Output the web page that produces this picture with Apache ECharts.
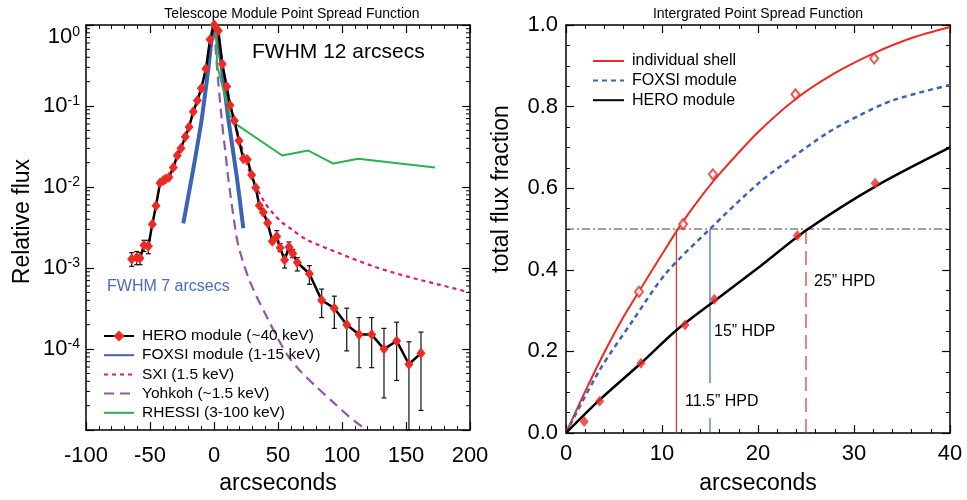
<!DOCTYPE html>
<html>
<head>
<meta charset="utf-8">
<title>Point Spread Function</title>
<script src="https://cdn.jsdelivr.net/npm/echarts/dist/echarts.min.js"></script>
<style>
    html, body { margin: 0; padding: 0; background: #ffffff; }
    #main { width: 967px; height: 500px; }
</style>
</head>
<body>
<div id="main"></div>
<script>
// ---- left panel: PSF profiles ----
var heroX = [-64.3, -60.4, -57.8, -54.7, -51.3, -48.2, -45.3, -42.2, -39.6, -37.7, -35.2, -31.8, -28.7,
    -25.8, -22.4, -19.5, -16.2, -13.0, -9.9, -6.3, -3.1, 0.2, 3.4, 6.5, 9.9, 12.5, 15.9, 19.5, 22.9, 26.0,
    29.4, 32.6, 35.4, 38.5, 41.9, 45.6, 49.0, 51.6, 55.2, 58.6, 61.5, 65.1, 74.5, 84.1, 94.0, 103.7, 113.3,
    123.2, 132.8, 142.7, 152.3, 161.7];
var heroFlux = [1.29e-3, 1.35e-3, 1.32e-3, 1.91e-3, 1.86e-3, 3.47e-3, 5.89e-3, 1.12e-2, 1.20e-2, 1.26e-2,
    1.32e-2, 1.74e-2, 2.45e-2, 3.02e-2, 4.17e-2, 5.50e-2, 8.51e-2, 0.117, 0.166, 0.288, 0.66, 1.0, 0.85,
    0.331, 0.174, 0.102, 0.066, 0.0372, 0.0224, 0.0219, 0.0141, 9.8e-3, 5.9e-3, 4.9e-3, 3.6e-3, 2.14e-3,
    2.45e-3, 1.78e-3, 1.26e-3, 1.82e-3, 1.51e-3, 1.17e-3, 8.5e-4, 4.0e-4, 3.2e-4, 2.0e-4, 1.51e-4, 1.51e-4,
    1.0e-4, 1.26e-4, 6.5e-5, 8.9e-5];
var heroErrX = [-64.3, -60.4, -57.8, -54.7, -51.3, 45.6, 49.0, 51.6, 55.2, 58.6, 61.5, 65.1, 74.5, 84.1,
    94.0, 103.7, 113.3, 123.2, 132.8, 142.7, 152.3, 161.7];
var heroErrLo = [1.05e-3, 1.1e-3, 1.1e-3, 1.6e-3, 1.5e-3, 2.0e-3, 2.2e-3, 1.6e-3, 1.0e-3, 1.6e-3, 1.35e-3,
    9.2e-4, 6.3e-4, 2.45e-4, 1.8e-4, 9.5e-5, 5.9e-5, 5.9e-5, 2.5e-5, 4.1e-5, 1e-5, 1.75e-5];
var heroErrHi = [1.55e-3, 1.6e-3, 1.55e-3, 2.2e-3, 2.2e-3, 2.3e-3, 2.9e-3, 2.0e-3, 1.45e-3, 2.1e-3, 1.7e-3,
    1.35e-3, 1.07e-3, 5.5e-4, 4.5e-4, 3.2e-4, 2.45e-4, 2.45e-4, 1.8e-4, 2.15e-4, 1.23e-4, 1.62e-4];
var foxsiX = [-24.0, -16.2, -9.6, -4.5, 0, 4.7, 11.2, 17.7, 22.9];
var foxsiFlux = [3.55e-3, 1.66e-2, 6.9e-2, 0.282, 1.0, 0.447, 6.9e-2, 1.38e-2, 3.1e-3];
var sxiX = [1, 6, 12.5, 18, 23, 28, 33, 40, 46.3, 52.8, 59.4, 72.4, 98.4, 124.5, 150.5, 176.6, 200];
var sxiFlux = [0.9, 0.33, 0.11, 0.05, 0.026, 0.0151, 0.010, 6.3e-3, 4.7e-3, 3.7e-3, 3.1e-3, 2.24e-3,
    1.51e-3, 1.05e-3, 7.9e-4, 6.2e-4, 5.0e-4];
var yohkohX = [0.5, 2.1, 6.0, 8.6, 11.2, 15.1, 19.0, 28.1, 41.2, 56.8, 67.2, 80.2, 93.2, 106, 119.3];
var yohkohFlux = [0.9, 0.339, 0.069, 0.0295, 0.0126, 4.47e-3, 1.9e-3, 6.8e-4, 2.5e-4, 8.7e-5, 5.4e-5,
    3.4e-5, 2.2e-5, 1.45e-5, 1.0e-5];
var rhessiX = [1.5, 2.5, 12.5, 17.7, 53.3, 73.7, 93.2, 112.7, 172.7];
var rhessiFlux = [0.89, 0.316, 0.076, 0.059, 0.0245, 0.0282, 0.0195, 0.0224, 0.0174];

// ---- right panel: integrated PSF ----
var shellX = [0, 2, 4, 6, 8, 10, 12, 14, 16, 20, 24, 28, 32, 36, 40];
var shellFrac = [0, 0.102, 0.198, 0.285, 0.362, 0.438, 0.512, 0.577, 0.635, 0.737, 0.82, 0.882, 0.93,
    0.968, 0.995];
var foxsiIntX = [0, 3.5, 7, 10.4, 14.9, 20.2, 23.7, 27.2, 30.6, 34.1, 40];
var foxsiIntFrac = [0, 0.154, 0.277, 0.391, 0.498, 0.615, 0.677, 0.735, 0.779, 0.816, 0.853];
var heroIntX = [0, 3.5, 7.8, 11.5, 15.6, 20.2, 25.1, 32.2, 40];
var heroIntFrac = [0, 0.081, 0.171, 0.252, 0.326, 0.408, 0.498, 0.604, 0.70];
var shellPtsX = [7.6, 12.2, 15.3, 23.9, 32.1];
var shellPtsFrac = [0.346, 0.512, 0.634, 0.83, 0.918];
var heroPtsX = [1.9, 3.5, 7.8, 12.4, 15.45, 24.1, 32.2];
var heroPtsFrac = [0.028, 0.078, 0.171, 0.265, 0.328, 0.484, 0.612];
var hpdLevel = 0.5;
var hpdShell = 11.5, hpdFoxsi = 15, hpdHero = 25;
var foxsiLineGap = [0.036, 0.122];   // blue marker line is broken round its label

var FONT = 'Liberation Sans, Arial, Helvetica, sans-serif';
var RED = '#ee2a24', BLUE = '#3d63b6', BLACK = '#000000';

function zip(xs, ys){
    return xs.map(function(x, i){ return [x, ys[i]]; });
}
// legend entry showing only the line (no symbol dot)
function lineOnly(name){
    return {name: name, itemStyle: {opacity: 0, color: 'rgba(0,0,0,0)', borderWidth: 0}};
}

// log axis minor ticks (2..9 per decade), drawn on both sides of the left frame
var logMinor = [];
for (var e = -5; e < 0; e++){
    for (var m = 2; m <= 9; m++){
        logMinor.push([-100, m * Math.pow(10, e)]);
    }
}
function renderLogMinor(params, api){
    var l = api.coord([-100, api.value(1)]);
    var r = api.coord([200, api.value(1)]);
    var st = {stroke: '#000', lineWidth: 1};
    return {type: 'group', children: [
        {type: 'line', shape: {x1: l[0], y1: l[1], x2: l[0] + 4, y2: l[1]}, style: st},
        {type: 'line', shape: {x1: r[0] - 4, y1: r[1], x2: r[0], y2: r[1]}, style: st}
    ]};
}
function renderErrorBar(params, api){
    var x = api.value(0);
    var top = api.coord([x, api.value(2)]);
    var bot = api.coord([x, api.value(1)]);
    var hw = 2.5;
    var st = {stroke: '#111', lineWidth: 1.2};
    return {type: 'group', children: [
        {type: 'line', shape: {x1: top[0], y1: top[1], x2: bot[0], y2: bot[1]}, style: st},
        {type: 'line', shape: {x1: top[0] - hw, y1: top[1], x2: top[0] + hw, y2: top[1]}, style: st},
        {type: 'line', shape: {x1: bot[0] - hw, y1: bot[1], x2: bot[0] + hw, y2: bot[1]}, style: st}
    ]};
}

// common axis pieces
function frameAxis(opt){
    var base = {
        axisLine: {show: true, onZero: false, lineStyle: {color: '#000', width: 1.5}},
        axisTick: {show: true, inside: true, length: 8, lineStyle: {color: '#000', width: 1.2}},
        minorTick: {show: false},
        splitLine: {show: false},
        axisLabel: {show: false}
    };
    return Object.assign(base, opt);
}
var tickLabel = {fontSize: 22, color: '#000', fontFamily: FONT};
var nameStyle = {fontSize: 23, color: '#000', fontFamily: FONT};
var minorX = {show: true, splitNumber: 5, length: 4, lineStyle: {color: '#000'}};
var minorY = {show: true, splitNumber: 4, length: 4, lineStyle: {color: '#000'}};

var chart = echarts.init(document.getElementById('main'));
var option = {
    animation: false,
    backgroundColor: '#ffffff',
    textStyle: {fontFamily: FONT},
    grid: [
        {left: 86, top: 25, width: 384, height: 408},
        {left: 566, top: 25, width: 384, height: 408}
    ],
    xAxis: [
        frameAxis({gridIndex: 0, type: 'value', position: 'bottom', min: -100, max: 200, interval: 50,
            minorTick: minorX, axisLabel: Object.assign({show: true, margin: 15}, tickLabel),
            name: 'arcseconds', nameLocation: 'middle', nameGap: 39, nameTextStyle: nameStyle}),
        frameAxis({gridIndex: 0, type: 'value', position: 'top', min: -100, max: 200, interval: 50,
            minorTick: minorX}),
        frameAxis({gridIndex: 1, type: 'value', position: 'bottom', min: 0, max: 40, interval: 10,
            minorTick: minorX, axisLabel: Object.assign({show: true, margin: 10}, tickLabel),
            name: 'arcseconds', nameLocation: 'middle', nameGap: 39, nameTextStyle: nameStyle}),
        frameAxis({gridIndex: 1, type: 'value', position: 'top', min: 0, max: 40, interval: 10,
            minorTick: minorX})
    ],
    yAxis: [
        frameAxis({gridIndex: 0, type: 'log', logBase: 10, position: 'left', min: 1e-5, max: 1,
            axisLabel: {show: true, margin: 6, verticalAlignMaxLabel: 'top',
                formatter: function(v){
                    var p = Math.round(Math.log10(v));
                    if (p <= -5) return '';
                    return '{b|10}{s|' + p + '}';
                },
                rich: {
                    b: {fontSize: 22, color: '#000', fontFamily: FONT},
                    s: {fontSize: 14, color: '#000', fontFamily: FONT, padding: [0, 0, 10, 0]}
                }},
            name: 'Relative flux', nameLocation: 'middle', nameGap: 52,
            nameTextStyle: Object.assign({padding: [0, 0, 0, 12]}, nameStyle)}),
        frameAxis({gridIndex: 0, type: 'log', logBase: 10, position: 'right', min: 1e-5, max: 1}),
        frameAxis({gridIndex: 1, type: 'value', position: 'left', min: 0, max: 1, interval: 0.2,
            minorTick: minorY,
            axisLabel: Object.assign({show: true, margin: 8,
                formatter: function(v){ return v.toFixed(1); }}, tickLabel),
            name: 'total flux fraction', nameLocation: 'middle', nameGap: 53,
            nameTextStyle: Object.assign({padding: [0, 0, 0, 80]}, nameStyle)}),
        frameAxis({gridIndex: 1, type: 'value', position: 'right', min: 0, max: 1, interval: 0.2,
            minorTick: minorY})
    ],
    legend: [
        {
            left: 98, top: 323, orient: 'vertical', itemWidth: 30, itemHeight: 14, itemGap: 3.2,
            textStyle: {fontSize: 15.5, lineHeight: 14, color: '#000', fontFamily: FONT, padding: [0, 0, 0, 3]},
            data: ['HERO module (~40 keV)', lineOnly('FOXSI module (1-15 keV)'), lineOnly('SXI (1.5 keV)'),
                lineOnly('Yohkoh (~1.5 keV)'), lineOnly('RHESSI (3-100 keV)')]
        },
        {
            left: 587, top: 48, orient: 'vertical', itemWidth: 31, itemHeight: 14, itemGap: 3.6,
            textStyle: {fontSize: 16, lineHeight: 14, color: '#000', fontFamily: FONT, padding: [0, 0, 0, 3]},
            data: [lineOnly('individual shell'), lineOnly('FOXSI module'), lineOnly('HERO module')]
        }
    ],
    series: [
        {
            type: 'custom', name: 'logMinor', xAxisIndex: 0, yAxisIndex: 0, silent: true, z: 5,
            clip: false, renderItem: renderLogMinor, data: logMinor, encode: {x: 0, y: 1}
        },
        {
            type: 'custom', name: 'heroErr', xAxisIndex: 0, yAxisIndex: 0, silent: true, z: 3,
            renderItem: renderErrorBar, encode: {x: 0, y: [1, 2]},
            data: heroErrX.map(function(x, i){ return [x, heroErrLo[i], heroErrHi[i]]; })
        },
        {
            type: 'line', name: 'FOXSI module (1-15 keV)', xAxisIndex: 0, yAxisIndex: 0,
            symbol: 'none', smooth: 0.2, data: zip(foxsiX, foxsiFlux), z: 2,
            lineStyle: {color: BLUE, width: 4}, itemStyle: {color: BLUE}
        },
        {
            type: 'line', name: 'SXI (1.5 keV)', xAxisIndex: 0, yAxisIndex: 0,
            symbol: 'none', smooth: 0.3, data: zip(sxiX, sxiFlux), z: 2,
            lineStyle: {color: '#e5196a', width: 2.2, type: [4, 4]}, itemStyle: {color: '#e5196a'}
        },
        {
            type: 'line', name: 'Yohkoh (~1.5 keV)', xAxisIndex: 0, yAxisIndex: 0,
            symbol: 'none', smooth: 0.3, data: zip(yohkohX, yohkohFlux), z: 2,
            lineStyle: {color: '#9156a8', width: 2.2, type: [10, 6]}, itemStyle: {color: '#9156a8'}
        },
        {
            type: 'line', name: 'RHESSI (3-100 keV)', xAxisIndex: 0, yAxisIndex: 0,
            symbol: 'none', data: zip(rhessiX, rhessiFlux), z: 2,
            lineStyle: {color: '#2bb34b', width: 2}, itemStyle: {color: '#2bb34b'}
        },
        {
            type: 'line', name: 'HERO module (~40 keV)', xAxisIndex: 0, yAxisIndex: 0,
            symbol: 'diamond', symbolSize: [9, 11], data: zip(heroX, heroFlux), z: 4,
            lineStyle: {color: BLACK, width: 2.5}, itemStyle: {color: RED}
        },
        // right panel
        {
            type: 'line', name: 'hpdLevel', xAxisIndex: 2, yAxisIndex: 2, symbol: 'none', silent: true,
            data: [[0, hpdLevel], [40, hpdLevel]],
            lineStyle: {color: '#444', width: 1, type: [8, 3, 2, 3]}
        },
        {
            type: 'line', name: 'hpdShell', xAxisIndex: 2, yAxisIndex: 2, symbol: 'none', silent: true,
            data: [[hpdShell, 0], [hpdShell, hpdLevel]],
            lineStyle: {color: RED, width: 1.2}
        },
        {
            type: 'line', name: 'hpdFoxsi', xAxisIndex: 2, yAxisIndex: 2, symbol: 'none', silent: true,
            data: [[hpdFoxsi, 0], [hpdFoxsi, foxsiLineGap[0]], [hpdFoxsi, '-'],
                [hpdFoxsi, foxsiLineGap[1]], [hpdFoxsi, hpdLevel]],
            lineStyle: {color: BLUE, width: 1.2}
        },
        {
            type: 'line', name: 'hpdHero', xAxisIndex: 2, yAxisIndex: 2, symbol: 'none', silent: true,
            data: [[hpdHero, 0], [hpdHero, hpdLevel]],
            lineStyle: {color: RED, width: 1.2, type: [14, 7]}
        },
        {
            type: 'line', name: 'individual shell', xAxisIndex: 2, yAxisIndex: 2, symbol: 'none',
            smooth: 0.3, data: zip(shellX, shellFrac),
            lineStyle: {color: RED, width: 2}, itemStyle: {color: RED}
        },
        {
            type: 'line', name: 'FOXSI module', xAxisIndex: 2, yAxisIndex: 2, symbol: 'none',
            smooth: 0.3, data: zip(foxsiIntX, foxsiIntFrac),
            lineStyle: {color: BLUE, width: 2.5, type: [5, 4]}, itemStyle: {color: BLUE}
        },
        {
            type: 'line', name: 'HERO module', xAxisIndex: 2, yAxisIndex: 2, symbol: 'none',
            smooth: 0.3, data: zip(heroIntX, heroIntFrac),
            lineStyle: {color: BLACK, width: 2.5}, itemStyle: {color: BLACK}
        },
        {
            type: 'scatter', name: 'shellPts', xAxisIndex: 2, yAxisIndex: 2, z: 4,
            symbol: 'emptyDiamond', symbolSize: [8, 10], data: zip(shellPtsX, shellPtsFrac),
            itemStyle: {color: RED, borderColor: RED, borderWidth: 1.2}
        },
        {
            type: 'scatter', name: 'heroPts', xAxisIndex: 2, yAxisIndex: 2, z: 4,
            symbol: 'diamond', symbolSize: [9, 11], data: zip(heroPtsX, heroPtsFrac),
            itemStyle: {color: RED}
        }
    ],
    graphic: [
        {type: 'text', x: 292, y: 14, style: {text: 'Telescope Module Point Spread Function',
            textAlign: 'center', textVerticalAlign: 'middle', fontSize: 14, fontFamily: FONT, fill: '#000'}},
        {type: 'text', x: 758, y: 14, style: {text: 'Intergrated Point Spread Function',
            textAlign: 'center', textVerticalAlign: 'middle', fontSize: 14, fontFamily: FONT, fill: '#000'}},
        {type: 'text', x: 252, y: 52, style: {text: 'FWHM 12 arcsecs',
            textAlign: 'left', textVerticalAlign: 'middle', fontSize: 21, fontFamily: FONT, fill: '#000'}},
        {type: 'text', x: 107, y: 287, style: {text: 'FWHM 7 arcsecs',
            textAlign: 'left', textVerticalAlign: 'middle', fontSize: 16, fontFamily: FONT, fill: '#4a6cc0'}},
        {type: 'text', x: 814, y: 282, style: {text: '25\u201D HPD',
            textAlign: 'left', textVerticalAlign: 'middle', fontSize: 16, fontFamily: FONT, fill: '#000'}},
        {type: 'text', x: 714, y: 332, style: {text: '15\u201D HDP',
            textAlign: 'left', textVerticalAlign: 'middle', fontSize: 16, fontFamily: FONT, fill: '#000'}},
        {type: 'text', x: 685, y: 402, style: {text: '11.5\u201D HPD',
            textAlign: 'left', textVerticalAlign: 'middle', fontSize: 16, fontFamily: FONT, fill: '#000'}}
    ]
};
chart.setOption(option);
</script>
</body>
</html>
